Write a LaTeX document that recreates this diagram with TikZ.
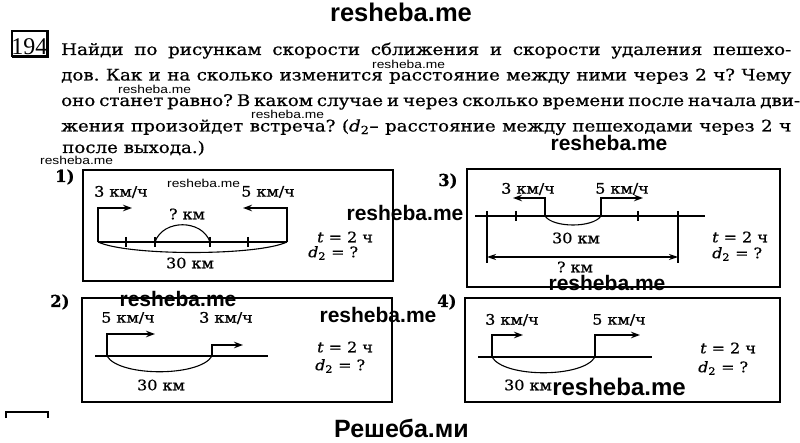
\documentclass[tikz,border=0pt]{standalone}
\usepackage{graphicx}
\usepackage{fontspec}
\setmainfont{DejaVu Serif}[FakeBold=0.6]
\newfontfamily\wmfont{Liberation Sans}
\newfontfamily\numfont{Liberation Serif}
\usetikzlibrary{arrows.meta}
\frenchspacing
\newcommand{\jline}[1]{\scalebox{1.14}[1]{\makebox[640.35pt][s]{#1}}}
\newcommand{\hs}[1]{\scalebox{1.1}[1]{#1}}
\newcommand{\wms}[1]{\scalebox{1.2}[1]{#1}}
\begin{document}
\begin{tikzpicture}[x=1pt,y=-1pt,
  road/.style={line width=2.4pt},
  panelbox/.style={line width=1.3pt},
  walker/.style={line width=1.5pt,-{Stealth[length=9pt,width=6.5pt]}},
  arcline/.style={line width=1.1pt},
  tickmark/.style={line width=1.3pt},
  lbl/.style={inner sep=0pt,font=\fontsize{14.5}{16}\selectfont},
  numlbl/.style={inner sep=0pt,anchor=base west,font=\bfseries\fontsize{16.5}{18}\selectfont},
  wmbig/.style={inner sep=0pt,anchor=base,font=\wmfont\bfseries\fontsize{21}{24}\selectfont},
  wmsmall/.style={inner sep=0pt,anchor=base west,font=\wmfont\fontsize{11.5}{13}\selectfont},
  txt/.style={inner sep=0pt,anchor=base west,font=\fontsize{16}{18}\selectfont},
]
\useasboundingbox (0,0) rectangle (800,443);
\fill[white] (0,0) rectangle (800,443);

% title watermark
\node[wmbig,font=\wmfont\bfseries\fontsize{25.5}{28}\selectfont] (title) at (401,22) {resheba.me};

% problem number box
\draw[panelbox] (12,31) rectangle (47,56);
\draw[line width=2.6pt] (47.5,30.5) -- (47.5,57) -- (12,57);
\node[inner sep=0pt,anchor=base,font=\numfont\fontsize{24}{24}\selectfont] (num) at (29.5,54.5) {194};

% problem text
\node[txt] (l1) at (61,55) {\jline{Найди по рисункам скорости сближения и скорости удаления пешехо-}};
\node[txt] (l2) at (61,80.5) {\jline{дов. Как и на сколько изменится расстояние между ними через 2 ч? Чему}};
\node[txt] (l3) at (61,106) {\jline{оно станет равно? В каком случае и через сколько времени после начала дви-}};
\node[txt] (l4) at (61,131.5) {\jline{жения произойдет встреча? (\textit{d}\textsubscript{2}– расстояние между пешеходами через 2 ч}};
\node[txt] (l5) at (62,153) {\scalebox{1.14}[1]{после выхода.)}};

% small watermarks
\node[wmsmall] (ws1) at (372,68.5) {\wms{resheba.me}};
\node[wmsmall] (ws2) at (118,93.5) {\wms{resheba.me}};
\node[wmsmall] (ws3) at (251,118.5) {\wms{resheba.me}};
\node[wmsmall] (ws4) at (40,165) {\wms{resheba.me}};
\node[wmsmall] (ws5) at (167,188) {\wms{resheba.me}};

% ---------- panel 1 ----------
\node[numlbl] (n1) at (55,182) {1)};
\draw[panelbox] (83,170) rectangle (393,281);
\coordinate (a1L) at (98,242);
\coordinate (a1R) at (287,242);
\coordinate (h1L) at (132,208);
\coordinate (h1R) at (243,208);
\coordinate (t1b) at (155,242);
\coordinate (t1c) at (210,242);
\draw[road] (a1L) -- (a1R);
\foreach \x in {126,155,210,248} \draw[tickmark] (\x,237) -- (\x,247);
\draw[walker] (a1L) |- (h1L);
\draw[walker] (a1R) |- (h1R);
\draw[arcline] (t1b) .. controls +(8,-23) and +(-8,-23) .. (t1c);
\draw[arcline] (a1L) .. controls +(30,14) and +(-30,14) .. (a1R);
\node[lbl] (v1L) at (121,192) {\hs{3 км/ч}};
\node[lbl] (v1R) at (268,192) {\hs{5 км/ч}};
\node[lbl] (q1) at (187,214) {\hs{? км}};
\node[lbl] (d1) at (190,263) {\hs{30 км}};
\node[lbl,anchor=west] (tt1) at (317,237) {\hs{\textit{t} = 2 ч}};
\node[lbl,anchor=west] (dd1) at (308,253) {\hs{\textit{d}\textsubscript{2} = ?}};

% ---------- panel 3 ----------
\node[numlbl] (n3) at (438,186) {3)};
\draw[panelbox] (467,169) rectangle (780,287);
\coordinate (a3L) at (475,216);
\coordinate (a3R) at (705,216);
\coordinate (w3L) at (545,216);
\coordinate (w3R) at (601,216);
\coordinate (h3L) at (513,198);
\coordinate (h3R) at (643,198);
\coordinate (e3L) at (487,211);
\coordinate (e3R) at (678,211);
\coordinate (f3L) at (487,263);
\coordinate (f3R) at (678,263);
\coordinate (g3L) at (487,257);
\coordinate (g3R) at (678,257);
\draw[road] (a3L) -- (a3R);
\draw[tickmark] (e3L) -- (f3L);
\draw[tickmark] (e3R) -- (f3R);
\foreach \x in {516,638} \draw[tickmark] (\x,211) -- (\x,221);
\draw[walker] (w3L) |- (h3L);
\draw[walker] (w3R) |- (h3R);
\draw[arcline] (w3L) .. controls +(8,12) and +(-8,12) .. (w3R);
\draw[line width=1.2pt,{Stealth[length=9pt,width=6pt]}-{Stealth[length=9pt,width=6pt]}] (g3L) -- (g3R);
\node[lbl] (v3L) at (528,189) {\hs{3 км/ч}};
\node[lbl] (v3R) at (622,189) {\hs{5 км/ч}};
\node[lbl] (d3) at (576,238) {\hs{30 км}};
\node[lbl] (q3) at (575,267) {\hs{? км}};
\node[lbl,anchor=west] (tt3) at (712,237) {\hs{\textit{t} = 2 ч}};
\node[lbl,anchor=west] (dd3) at (712,254) {\hs{\textit{d}\textsubscript{2} = ?}};

% ---------- panel 2 ----------
\node[numlbl] (n2) at (50,307) {2)};
\draw[panelbox] (82,298) rectangle (392,402);
\coordinate (a2L) at (95,356);
\coordinate (a2R) at (268,356);
\coordinate (w2L) at (107,356);
\coordinate (w2R) at (212,356);
\coordinate (h2L) at (155,334);
\coordinate (h2R) at (243,345);
\draw[road] (a2L) -- (a2R);
\draw[walker] (w2L) |- (h2L);
\draw[walker] (w2R) |- (h2R);
\draw[arcline] (w2L) .. controls +(12,21) and +(-12,21) .. (w2R);
\node[lbl] (v2L) at (128,318) {\hs{5 км/ч}};
\node[lbl] (v2R) at (226,318) {\hs{3 км/ч}};
\node[lbl] (d2) at (161,385) {\hs{30 км}};
\node[lbl,anchor=west] (tt2) at (317,347) {\hs{\textit{t} = 2 ч}};
\node[lbl,anchor=west] (dd2) at (315,366) {\hs{\textit{d}\textsubscript{2} = ?}};

% ---------- panel 4 ----------
\node[numlbl] (n4) at (437,307) {4)};
\draw[panelbox] (465,298) rectangle (780,402);
\coordinate (a4L) at (478,357);
\coordinate (a4R) at (652,357);
\coordinate (w4L) at (492,357);
\coordinate (w4R) at (595,357);
\coordinate (h4L) at (523,335);
\coordinate (h4R) at (640,335);
\draw[road] (a4L) -- (a4R);
\draw[walker] (w4L) |- (h4L);
\draw[walker] (w4R) |- (h4R);
\draw[arcline] (w4L) .. controls +(12,21) and +(-12,21) .. (w4R);
\node[lbl] (v4L) at (512,320) {\hs{3 км/ч}};
\node[lbl] (v4R) at (619,320) {\hs{5 км/ч}};
\node[lbl] (d4) at (528,385) {\hs{30 км}};
\node[lbl,anchor=west] (tt4) at (700,348) {\hs{\textit{t} = 2 ч}};
\node[lbl,anchor=west] (dd4) at (698,368) {\hs{\textit{d}\textsubscript{2} = ?}};

% big watermarks
\node[wmbig] (wb1) at (609,151) {resheba.me};
\node[wmbig] (wb2) at (405,221) {resheba.me};
\node[wmbig] (wb3) at (607,291) {resheba.me};
\node[wmbig] (wb4) at (178,307) {resheba.me};
\node[wmbig] (wb5) at (378,323) {resheba.me};
\node[wmbig,font=\wmfont\bfseries\fontsize{24}{26}\selectfont] (wb6) at (619,395) {resheba.me};

% bottom fragment and footer
\draw[panelbox] (6,418) -- (6,412) -- (48,412) -- (48,418);
\node[wmbig,font=\wmfont\bfseries\fontsize{25}{28}\selectfont] (foot) at (401.5,437) {Решеба.ми};
\end{tikzpicture}
\end{document}
